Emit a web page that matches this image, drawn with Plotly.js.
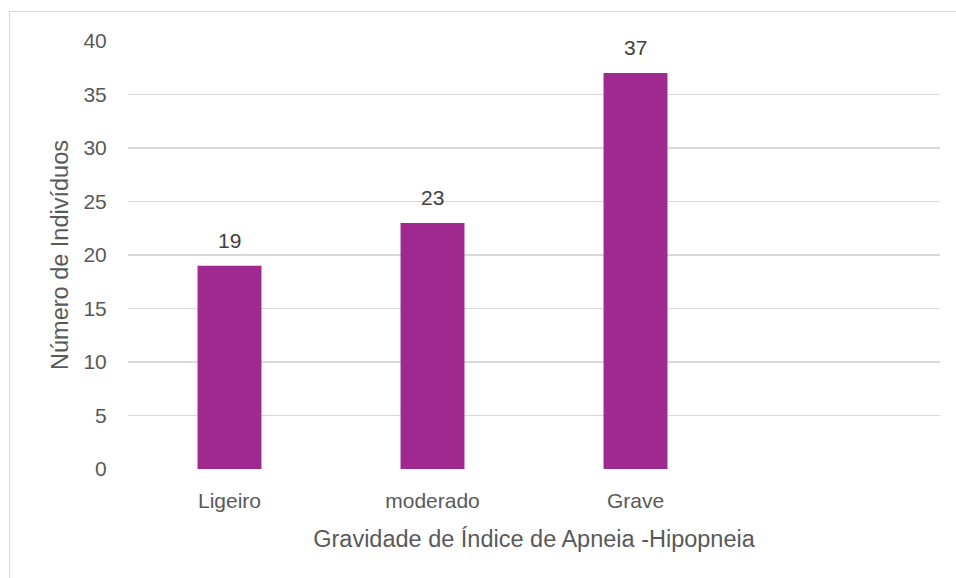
<!DOCTYPE html>
<html>
<head>
<meta charset="utf-8">
<script src="https://cdn.plot.ly/plotly-3.0.1.min.js"></script>
<style>
  html, body { margin: 0; padding: 0; background: #fff; }
  #frame { position: absolute; left: 9px; top: 11px; width: 960px; height: 580px;
           border: 1px solid #d9d9d9; box-sizing: border-box; }
  #chart { position: absolute; left: 0; top: 0; width: 956px; height: 578px; }
</style>
</head>
<body>
<div id="frame"></div>
<div id="chart"></div>
<script>
// Severity classes of the apnoea-hypopnoea index and number of subjects in each
const categories = ["Ligeiro", "moderado", "Grave"];
const counts = [19, 23, 37];
const yTicks = [0, 5, 10, 15, 20, 25, 30, 35, 40];

const barColor = "#a0298f";
const fontFamily = "'Liberation Sans', Arial, sans-serif";

const trace = {
  type: "bar",
  x: categories,
  y: counts,
  marker: { color: barColor },
  hoverinfo: "x+y"
};

// value labels above each bar
const labels = categories.map((c, i) => ({
  x: c, y: counts[i], xref: "x", yref: "y",
  text: String(counts[i]), showarrow: false,
  yanchor: "bottom", yshift: 12,
  font: { family: fontFamily, size: 21, color: "#404040" }
}));

const layout = {
  width: 956, height: 578,
  margin: { l: 128, r: 16, t: 41, b: 109 },
  paper_bgcolor: "rgba(0,0,0,0)",
  plot_bgcolor: "rgba(0,0,0,0)",
  bargap: 0.685,
  showlegend: false,
  font: { family: fontFamily, color: "#595959" },
  xaxis: {
    type: "category",
    categoryarray: categories,
    range: [-0.5, 3.5],
    showgrid: false, zeroline: false, showline: false,
    ticks: "outside", ticklen: 13, tickcolor: "rgba(0,0,0,0)",
    tickfont: { family: fontFamily, size: 21, color: "#595959" },
    title: { text: "Gravidade de Índice de Apneia -Hipopneia", standoff: 19,
             font: { family: fontFamily, size: 23.5, color: "#595959" } },
    fixedrange: true
  },
  yaxis: {
    range: [0, 40],
    tickvals: yTicks,
    showgrid: true, gridcolor: "#d9d9d9", gridwidth: 1.5,
    zeroline: false, showline: false,
    ticks: "outside", ticklen: 16, tickcolor: "rgba(0,0,0,0)",
    tickfont: { family: fontFamily, size: 21, color: "#595959" },
    title: { text: "Número de Indivíduos", standoff: 8,
             font: { family: fontFamily, size: 23.5, color: "#595959" } },
    fixedrange: true
  },
  annotations: labels
};

Plotly.newPlot("chart", [trace], layout, { displayModeBar: false, staticPlot: true });
</script>
</body>
</html>
